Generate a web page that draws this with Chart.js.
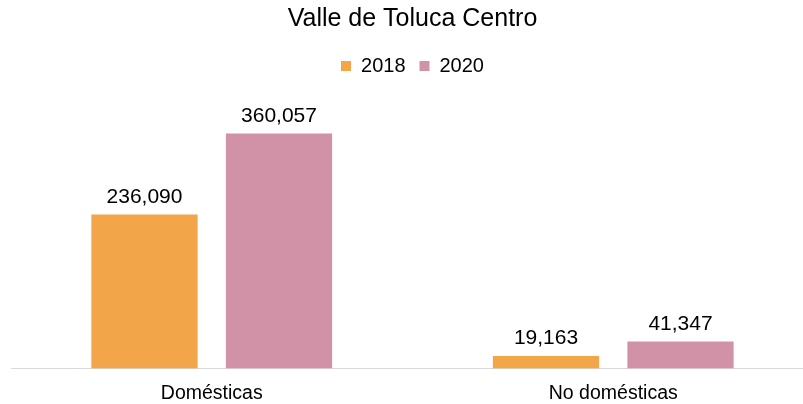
<!DOCTYPE html>
<html>
<head>
<meta charset="utf-8">
<script src="https://cdn.jsdelivr.net/npm/chart.js@4"></script>
<style>
  html, body { margin: 0; padding: 0; background: #fff; overflow: hidden; }
  #frame { width: 803px; height: 404px; overflow: hidden; position: relative; }
  #wrap { width: 825px; height: 418px; position: absolute; left: 0; top: 0; }
</style>
</head>
<body>
<div id="frame"><div id="wrap"><canvas id="usuariosChart"></canvas></div></div>
<script>
const categorias = ['Domésticas', 'No domésticas'];
const anios = ['2018', '2020'];
const valores2018 = [236090, 19163];
const valores2020 = [360057, 41347];

const FONT = "'Liberation Sans', Arial, sans-serif";

// value labels above each bar
const etiquetas = {
  id: 'etiquetas',
  afterDatasetsDraw(chart) {
    const ctx = chart.ctx;
    ctx.save();
    ctx.font = '21px ' + FONT;
    ctx.fillStyle = '#000';
    ctx.textAlign = 'center';
    ctx.textBaseline = 'alphabetic';
    chart.data.datasets.forEach((ds, i) => {
      chart.getDatasetMeta(i).data.forEach((bar, j) => {
        ctx.fillText(ds.data[j].toLocaleString('en-US'), bar.x, bar.y - 12);
      });
    });
    ctx.restore();
  }
};

const ctx = document.getElementById('usuariosChart').getContext('2d');
const usuariosChart = new Chart(ctx, {
  type: 'bar',
  data: {
    labels: categorias,
    datasets: [{
      label: anios[0],
      data: valores2018,
      backgroundColor: '#F3A54A',
      categoryPercentage: 0.67,
      barPercentage: 0.79
    }, {
      label: anios[1],
      data: valores2020,
      backgroundColor: '#D192A7',
      categoryPercentage: 0.67,
      barPercentage: 0.79
    }]
  },
  options: {
    responsive: true,
    maintainAspectRatio: false,
    animation: false,
    layout: {
      padding: { left: 11, right: 11, top: 2, bottom: 0 }
    },
    scales: {
      x: {
        grid: { display: false, drawTicks: false },
        border: { display: true, color: '#d9d9d9', width: 1 },
        ticks: {
          color: '#000',
          padding: 13,
          font: { family: FONT, size: 19.5 }
        }
      },
      y: {
        display: false,
        min: 0,
        max: 433000
      }
    },
    plugins: {
      title: {
        display: true,
        text: 'Valle de Toluca Centro',
        color: '#000',
        font: { family: FONT, size: 25, weight: 'normal' },
        padding: { top: 2, bottom: 8 }
      },
      legend: {
        labels: {
          boxWidth: 10,
          boxHeight: 10,
          color: '#000',
          padding: 14,
          font: { family: FONT, size: 20 }
        }
      },
      tooltip: { enabled: false }
    }
  },
  plugins: [etiquetas]
});
</script>
</body>
</html>
